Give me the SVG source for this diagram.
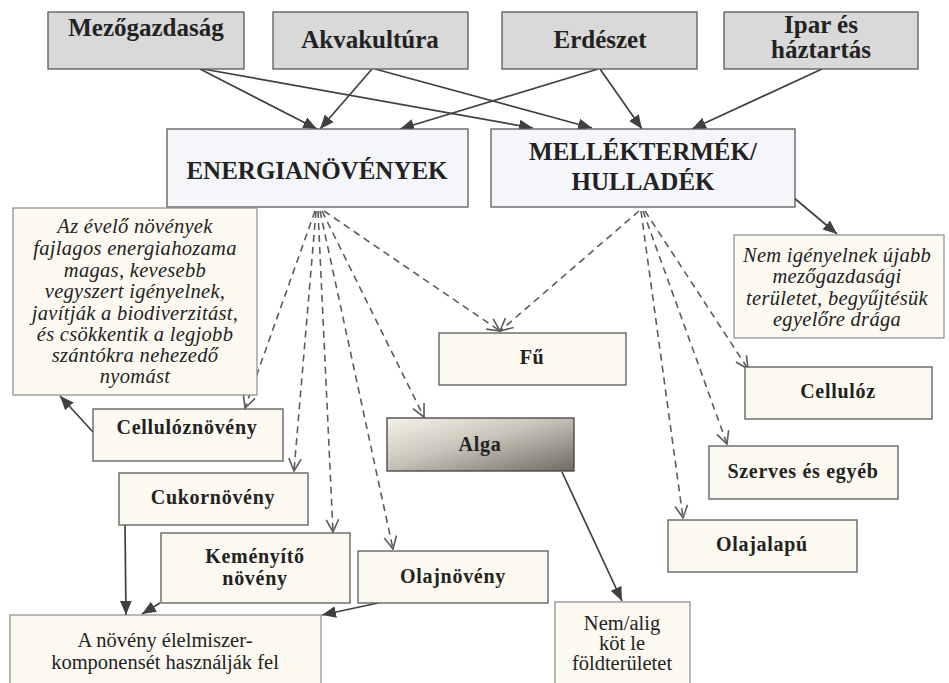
<svg xmlns="http://www.w3.org/2000/svg" width="949" height="683" viewBox="0 0 949 683">
<style>
.src{fill:#d9d9d9;stroke:#5a5a5a;stroke-width:1.3}
.main{fill:#f4f6fa;stroke:#5a5a5a;stroke-width:1.3}
.cr{fill:#fcf9f1;stroke:#5a5a5a;stroke-width:1.3}
.note{fill:#fcf9f1;stroke:#8a8a8a;stroke-width:1.2}
text{font-family:"Liberation Serif","Times New Roman",serif;fill:#222;text-anchor:middle}
.b{font-weight:bold}
.t{font-size:25px}
.m{font-size:20px;letter-spacing:0.7px}
.i{font-style:italic;font-size:20.5px;letter-spacing:0.3px}
.r{font-size:20.5px}
.sl{fill:none;stroke:#404040;stroke-width:1.7}
.dl{fill:none;stroke:#5c5c5c;stroke-width:1.6;stroke-dasharray:7,5}
</style>
<defs>
<marker id="ah" viewBox="0 0 12 10" refX="12" refY="5" markerWidth="14" markerHeight="12" markerUnits="userSpaceOnUse" orient="auto"><path d="M0,0 L12,5 L0,10 z" fill="#404040"/></marker>
<marker id="oh" viewBox="0 0 12 12" refX="11" refY="6" markerWidth="15" markerHeight="15" markerUnits="userSpaceOnUse" orient="auto"><path d="M1,1 L11,6 L1,11" fill="none" stroke="#5c5c5c" stroke-width="1.3"/></marker>
<linearGradient id="alg" x1="0" y1="0" x2="1" y2="1"><stop offset="0" stop-color="#f6f3ea"/><stop offset="0.45" stop-color="#c9c5ba"/><stop offset="1" stop-color="#6f6b61"/></linearGradient>
</defs>

<g id="connectors">
<path class="sl" d="M200,69 L317,129" marker-end="url(#ah)"/>
<path class="sl" d="M203,69 L533,128" marker-end="url(#ah)"/>
<path class="sl" d="M372,69 L320,129" marker-end="url(#ah)"/>
<path class="sl" d="M375,69 L592,128" marker-end="url(#ah)"/>
<path class="sl" d="M598,69 L400,129" marker-end="url(#ah)"/>
<path class="sl" d="M600,69 L642,129" marker-end="url(#ah)"/>
<path class="sl" d="M822,69 L692,129" marker-end="url(#ah)"/>
<path class="sl" d="M793,197 L837,234" marker-end="url(#ah)"/>
<path class="sl" d="M93,432 L60,396" marker-end="url(#ah)"/>
<path class="sl" d="M125,525 L126,615" marker-end="url(#ah)"/>
<path class="sl" d="M160,603 L142,614" marker-end="url(#ah)"/>
<path class="sl" d="M378,603 L322,615" marker-end="url(#ah)"/>
<path class="sl" d="M562,472 L622,601" marker-end="url(#ah)"/>
<path class="dl" d="M315,211 L245,408" marker-end="url(#oh)"/>
<path class="dl" d="M316,211 L294,471" marker-end="url(#oh)"/>
<path class="dl" d="M318,211 L333,532" marker-end="url(#oh)"/>
<path class="dl" d="M320,211 L393,549" marker-end="url(#oh)"/>
<path class="dl" d="M322,211 L424,417" marker-end="url(#oh)"/>
<path class="dl" d="M324,211 L500,331" marker-end="url(#oh)"/>
<path class="dl" d="M639,211 L500,331" marker-end="url(#oh)"/>
<path class="dl" d="M641,211 L683,518" marker-end="url(#oh)"/>
<path class="dl" d="M643,211 L727,444" marker-end="url(#oh)"/>
<path class="dl" d="M645,211 L748,369" marker-end="url(#oh)"/>
</g>

<g id="mezogazdasag"><rect class="src" x="48" y="12" width="196" height="57"/><text class="b t" x="146" y="36">Mezőgazdaság</text></g>
<g id="akvakultura"><rect class="src" x="273" y="12" width="195" height="57"/><text class="b t" x="370" y="48">Akvakultúra</text></g>
<g id="erdeszet"><rect class="src" x="502" y="12" width="195" height="57"/><text class="b t" x="600" y="48">Erdészet</text></g>
<g id="ipar"><rect class="src" x="724" y="12" width="194" height="57"/><text class="b t" x="821" y="33">Ipar és</text><text class="b t" x="821" y="58">háztartás</text></g>

<g id="energianovenyek"><rect class="main" x="167" y="129" width="301" height="78"/><text class="b t" x="317" y="179">ENERGIANÖVÉNYEK</text></g>
<g id="mellektermek"><rect class="main" x="491" y="129" width="304" height="78"/><text class="b t" x="643" y="160">MELLÉKTERMÉK/</text><text class="b t" x="643" y="190">HULLADÉK</text></g>

<g id="evelo"><rect class="note" x="13" y="208" width="244" height="187"/>
<text class="i" x="135" y="233">Az évelő növények</text>
<text class="i" x="135" y="255">fajlagos energiahozama</text>
<text class="i" x="135" y="277">magas, kevesebb</text>
<text class="i" x="135" y="298">vegyszert igényelnek,</text>
<text class="i" x="135" y="320">javítják a biodiverzitást,</text>
<text class="i" x="135" y="341">és csökkentik a legjobb</text>
<text class="i" x="135" y="362">szántókra nehezedő</text>
<text class="i" x="135" y="383">nyomást</text></g>

<g id="nemigenyelnek"><rect class="note" x="734" y="235" width="210" height="103"/>
<text class="i" x="837" y="262">Nem igényelnek újabb</text>
<text class="i" x="837" y="283">mezőgazdasági</text>
<text class="i" x="837" y="305">területet, begyűjtésük</text>
<text class="i" x="837" y="326">egyelőre drága</text></g>

<g id="fu"><rect class="cr" x="439" y="333" width="187" height="52"/><text class="b m" x="532" y="364">Fű</text></g>
<g id="cellulozn"><rect class="cr" x="93" y="409" width="190" height="52"/><text class="b m" x="187" y="434">Cellulóznövény</text></g>
<g id="alga"><rect x="387" y="418" width="187" height="53" fill="url(#alg)" stroke="#404040" stroke-width="1.3"/><text class="b m" x="480" y="451">Alga</text></g>
<g id="celluloz"><rect class="cr" x="745" y="367" width="187" height="52"/><text class="b m" x="838" y="398">Cellulóz</text></g>
<g id="szerves"><rect class="cr" x="709" y="446" width="189" height="53"/><text class="b m" x="803" y="478">Szerves és egyéb</text></g>
<g id="cukor"><rect class="cr" x="119" y="473" width="189" height="52"/><text class="b m" x="213" y="504">Cukornövény</text></g>
<g id="olajalapu"><rect class="cr" x="668" y="520" width="189" height="52"/><text class="b m" x="762" y="551">Olajalapú</text></g>
<g id="kemenyito"><rect class="cr" x="161" y="533" width="189" height="70"/><text class="b m" x="255" y="563">Keményítő</text><text class="b m" x="255" y="585">növény</text></g>
<g id="olajnoveny"><rect class="cr" x="358" y="551" width="190" height="52"/><text class="b m" x="453" y="583">Olajnövény</text></g>
<g id="elelmiszer"><rect class="note" x="10" y="615" width="311" height="80"/><text class="r" x="165" y="647">A növény élelmiszer-</text><text class="r" x="165" y="669">komponensét használják fel</text></g>
<g id="nemalig"><rect class="note" x="555" y="602" width="135" height="90"/><text class="r" x="622" y="630">Nem/alig</text><text class="r" x="622" y="650">köt le</text><text class="r" x="622" y="670">földterületet</text></g>
</svg>
